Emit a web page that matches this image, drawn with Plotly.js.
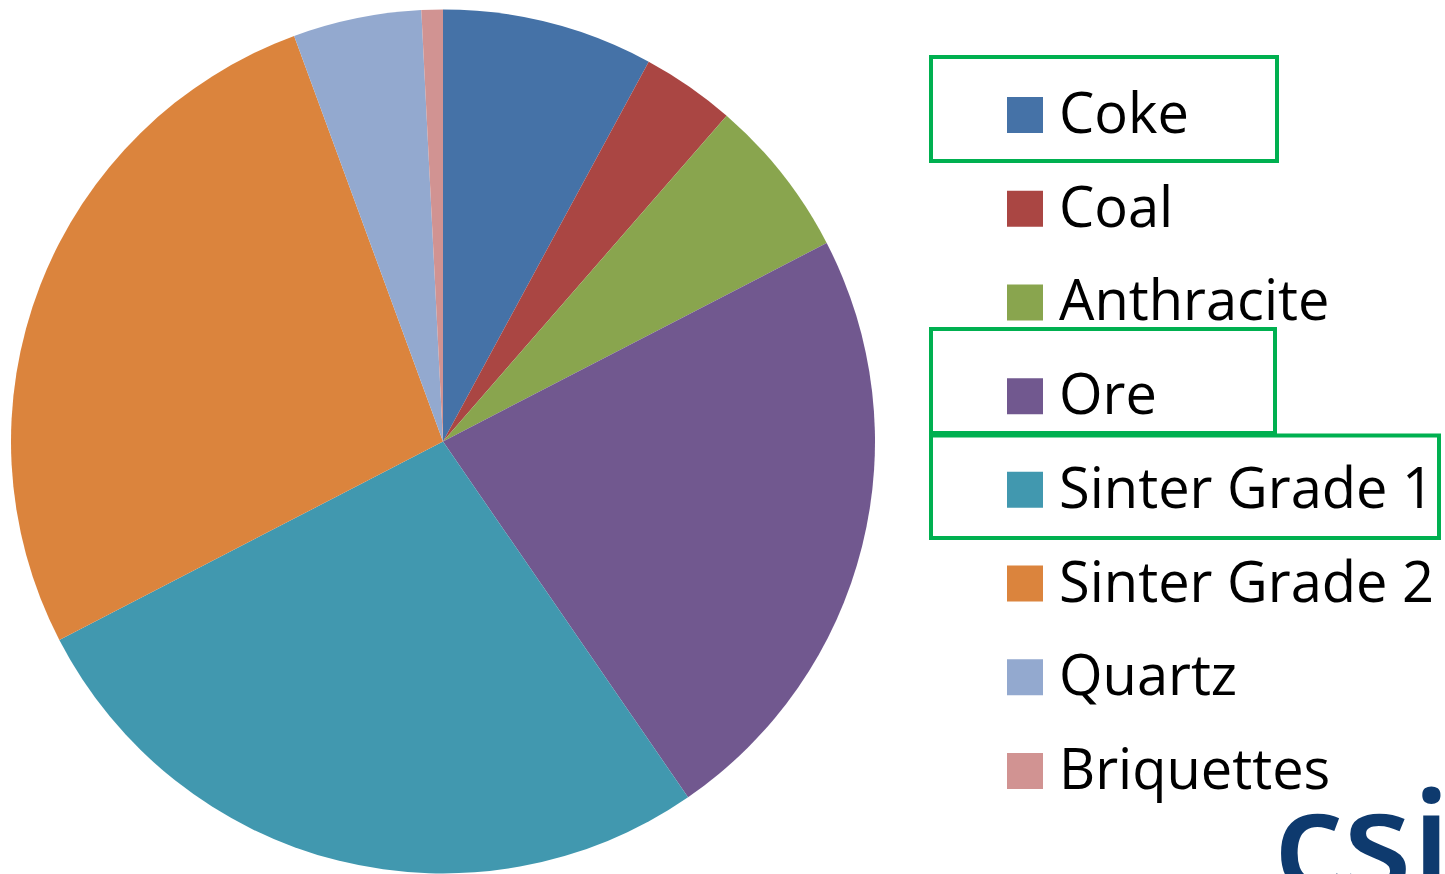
<!DOCTYPE html>
<html>
<head>
<meta charset="utf-8">
<script src="https://cdn.plot.ly/plotly-3.0.1.min.js"></script>
<style>
  html, body { margin: 0; padding: 0; background: #ffffff; }
  #chart { width: 1445px; height: 874px; }
</style>
</head>
<body>
<div id="chart"></div>
<script>
// ---- data ----
const categories = ['Coke', 'Coal', 'Anthracite', 'Ore', 'Sinter Grade 1', 'Sinter Grade 2', 'Quartz', 'Briquettes'];
const shares = [7.9, 3.5, 6.0, 23.0, 27.0, 27.0, 4.8, 0.8];
const sliceColors = ['#4572A7', '#AA4643', '#89A54E', '#71588F', '#4198AF', '#DB843D', '#93A9CF', '#D19392'];
const highlighted = ['Coke', 'Ore', 'Sinter Grade 1'];
const logoText = 'csi';

// ---- layout constants ----
const W = 1445, H = 874;
const PIE_CX = 443, PIE_CY = 441.5, PIE_R = 432;
const LEG_MARKER_X = 1025, LEG_TEXT_X = 1059, LEG_FONT = 56, LEG_SWATCH = 36;
const LEG_TOP = 115, LEG_STEP = 93.714;
const TEXT_DY = 0.043;
const BOX_X0 = 931;
// per-highlight box extents (x right edge, y offsets around the item, in item units)
const boxStyle = {
  'Coke': { x1: 1277, top: -0.619, bottom: 0.491 },
  'Ore': { x1: 1275, top: -0.716, bottom: 0.394 },
  'Sinter Grade 1': { x1: 1439, top: -0.580, bottom: 0.513 }
};

const idx = categories.map((c, i) => i);
const yTop = -LEG_TOP / LEG_STEP;
const yBottom = yTop + H / LEG_STEP;

const pie = {
  type: 'pie',
  labels: categories,
  values: shares,
  sort: false,
  direction: 'clockwise',
  rotation: 0,
  marker: { colors: sliceColors, line: { width: 0 } },
  textinfo: 'none',
  hoverinfo: 'label+percent',
  showlegend: false,
  domain: {
    x: [(PIE_CX - PIE_R) / W, (PIE_CX + PIE_R) / W],
    y: [(H - PIE_CY - PIE_R) / H, (H - PIE_CY + PIE_R) / H]
  }
};

const legendMarkers = {
  type: 'scatter',
  mode: 'markers',
  x: idx.map(() => LEG_MARKER_X),
  y: idx,
  marker: { symbol: 'square', size: LEG_SWATCH, color: sliceColors, line: { width: 0 } },
  hoverinfo: 'skip',
  showlegend: false,
  xaxis: 'x', yaxis: 'y'
};

const legendText = {
  type: 'scatter',
  mode: 'text',
  x: idx.map(() => LEG_TEXT_X),
  y: idx.map(i => i + TEXT_DY),
  text: categories,
  textposition: 'middle right',
  textfont: { family: 'Open Sans, sans-serif', size: LEG_FONT, color: '#000000' },
  hoverinfo: 'skip',
  showlegend: false,
  xaxis: 'x', yaxis: 'y'
};

const shapes = highlighted.map(name => {
  const i = categories.indexOf(name);
  const b = boxStyle[name];
  return {
    type: 'rect', xref: 'x', yref: 'y',
    x0: BOX_X0, x1: b.x1, y0: i + b.top, y1: i + b.bottom,
    line: { color: '#00B050', width: 4 }, fillcolor: 'rgba(0,0,0,0)', layer: 'above'
  };
});

const layout = {
  width: W, height: H,
  margin: { l: 0, r: 0, t: 0, b: 0, pad: 0 },
  paper_bgcolor: '#ffffff', plot_bgcolor: 'rgba(0,0,0,0)',
  showlegend: false,
  xaxis: { domain: [0, 1], range: [0, W], visible: false, fixedrange: true },
  yaxis: { domain: [0, 1], range: [yBottom, yTop], visible: false, fixedrange: true },
  shapes: shapes,
  annotations: [{
    text: logoText, xref: 'paper', yref: 'paper',
    x: 1272 / W, y: -60 / H, xanchor: 'left', yanchor: 'bottom',
    showarrow: false,
    font: { family: 'Open Sans, sans-serif', size: 140, color: '#0E3A6E', weight: 600 }
  }]
};

Plotly.newPlot('chart', [pie, legendMarkers, legendText], layout, { displayModeBar: false, staticPlot: true });
</script>
</body>
</html>
